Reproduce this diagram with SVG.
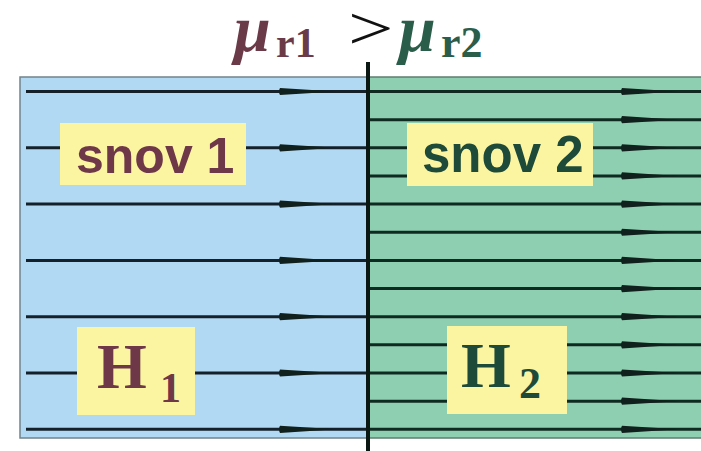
<svg xmlns="http://www.w3.org/2000/svg" xmlns:xlink="http://www.w3.org/1999/xlink" width="701" height="451" viewBox="0 0 701 451">
<defs>
<style>
.ln1{stroke:#14212b;stroke-width:3;fill:none}
.ln2{stroke:#0f2a20;stroke-width:3;fill:none}
.box{fill:#fbf5a2}
.sans{font-family:"Liberation Sans",Arial,sans-serif;font-weight:bold}
.serif{font-family:"Liberation Serif","Times New Roman",serif;font-weight:bold}
.c1{fill:#6e3848}
.c2{fill:#1e4b39}
</style>
<path id="ah" d="M0,-3.6 L56,0 L0,3.6 Q-2,0 0,-3.6 Z" fill="#10201c"/>
</defs>
<rect width="701" height="451" fill="#ffffff"/>
<g id="region1">
<rect x="20" y="77" width="347" height="361" fill="#b2d9f3" stroke="#72848c" stroke-width="1.5"/>
</g>
<g id="region2">
<rect x="367" y="77" width="336" height="361" fill="#8fcfb1" stroke="#5f7d70" stroke-width="1.5"/>
</g>
<g id="connectors">
<line class="ln1" x1="26" y1="91.5" x2="367" y2="91.5"/>
<line class="ln1" x1="26" y1="147.8" x2="367" y2="147.8"/>
<line class="ln1" x1="26" y1="204.1" x2="367" y2="204.1"/>
<line class="ln1" x1="26" y1="260.4" x2="367" y2="260.4"/>
<line class="ln1" x1="26" y1="316.7" x2="367" y2="316.7"/>
<line class="ln1" x1="26" y1="373" x2="367" y2="373"/>
<line class="ln1" x1="26" y1="429.3" x2="367" y2="429.3"/>
<use xlink:href="#ah" x="280" y="91.5"/>
<use xlink:href="#ah" x="280" y="147.8"/>
<use xlink:href="#ah" x="280" y="204.1"/>
<use xlink:href="#ah" x="280" y="260.4"/>
<use xlink:href="#ah" x="280" y="316.7"/>
<use xlink:href="#ah" x="280" y="373"/>
<use xlink:href="#ah" x="280" y="429.3"/>
<line class="ln2" x1="367" y1="91.5" x2="701" y2="91.5"/>
<line class="ln2" x1="367" y1="119.65" x2="701" y2="119.65"/>
<line class="ln2" x1="367" y1="147.8" x2="701" y2="147.8"/>
<line class="ln2" x1="367" y1="175.95" x2="701" y2="175.95"/>
<line class="ln2" x1="367" y1="204.1" x2="701" y2="204.1"/>
<line class="ln2" x1="367" y1="232.25" x2="701" y2="232.25"/>
<line class="ln2" x1="367" y1="260.4" x2="701" y2="260.4"/>
<line class="ln2" x1="367" y1="288.55" x2="701" y2="288.55"/>
<line class="ln2" x1="367" y1="316.7" x2="701" y2="316.7"/>
<line class="ln2" x1="367" y1="344.85" x2="701" y2="344.85"/>
<line class="ln2" x1="367" y1="373" x2="701" y2="373"/>
<line class="ln2" x1="367" y1="401.15" x2="701" y2="401.15"/>
<line class="ln2" x1="367" y1="429.3" x2="701" y2="429.3"/>
<use xlink:href="#ah" x="622" y="91.5"/>
<use xlink:href="#ah" x="622" y="119.65"/>
<use xlink:href="#ah" x="622" y="147.8"/>
<use xlink:href="#ah" x="622" y="175.95"/>
<use xlink:href="#ah" x="622" y="204.1"/>
<use xlink:href="#ah" x="622" y="232.25"/>
<use xlink:href="#ah" x="622" y="260.4"/>
<use xlink:href="#ah" x="622" y="288.55"/>
<use xlink:href="#ah" x="622" y="316.7"/>
<use xlink:href="#ah" x="622" y="344.85"/>
<use xlink:href="#ah" x="622" y="373"/>
<use xlink:href="#ah" x="622" y="401.15"/>
<use xlink:href="#ah" x="622" y="429.3"/>
</g>
<g id="divider">
<line x1="368" y1="62" x2="368" y2="451" stroke="#0b1712" stroke-width="4"/>
</g>
<g id="label-snov1">
<rect class="box" x="60" y="123" width="186" height="62"/>
<text class="sans c1" x="76" y="173" font-size="50">snov 1</text>
</g>
<g id="label-snov2">
<rect class="box" x="407" y="123" width="186" height="63"/>
<text class="sans c2" x="422" y="172" font-size="51">snov 2</text>
</g>
<g id="label-H1">
<rect class="box" x="77" y="327" width="118" height="88"/>
<text class="serif c1" x="97" y="388" font-size="64">H</text>
<text class="serif c1" x="160" y="402" font-size="42">1</text>
</g>
<g id="label-H2">
<rect class="box" x="447" y="326" width="120" height="88"/>
<text class="serif c2" x="461" y="387" font-size="64">H</text>
<text class="serif c2" x="519" y="398" font-size="44">2</text>
</g>
<g id="title">
<text class="serif" x="234" y="51" font-size="66" font-style="italic" fill="#6a3a48">μ</text>
<text class="serif" x="276" y="57" font-size="42" fill="#6a3a48">r1</text>
<text x="348" y="49" font-size="62" fill="#111111" font-family="Liberation Serif,serif" transform="translate(348,49) scale(1.3,1) translate(-348,-49)">&gt;</text>
<text class="serif" x="399" y="51" font-size="66" font-style="italic" fill="#2a5d4a">μ</text>
<text class="serif" x="441" y="57" font-size="44" fill="#2a5d4a">r2</text>
</g>
</svg>
